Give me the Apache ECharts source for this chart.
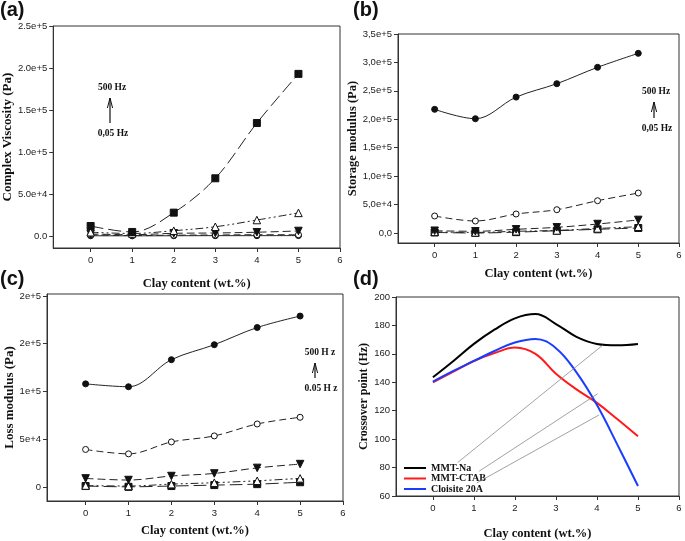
<!DOCTYPE html>
<html><head><meta charset="utf-8">
<script src="https://cdn.jsdelivr.net/npm/echarts@6/dist/echarts.min.js"></script>
<style>html,body{margin:0;padding:0;background:#fff}#c{width:685px;height:541px}</style>
</head><body><div id="c"></div>
<script>
// ---------- data ----------
const clay = [0, 1, 2, 3, 4, 5];
const xTicks = [0, 1, 2, 3, 4, 5, 6];

// (a) Complex viscosity (Pa)
const aSquare = [11900, 4800, 27800, 68700, 134500, 193000];
const aOpenTri = [4500, 3000, 6300, 11000, 19000, 27500];
const aInvTri = [2500, 1500, 3200, 3600, 4500, 6000];
const aOpenCirc = [1500, 500, 1000, 1200, 1500, 1500];
const aFillCirc = [300, 200, 300, 400, 400, 500];
const aTickVals = [0, 50000, 100000, 150000, 200000, 250000];
const aTickLabels = ['0.0', '5.0e+4', '1.0e+5', '1.5e+5', '2.0e+5', '2.5e+5'];

// (b) Storage modulus (Pa)
const bFillCirc = [217500, 201000, 239000, 262600, 291400, 316000];
const bOpenCirc = [29900, 21100, 33400, 41000, 56800, 70300];
const bInvTri = [4000, 3000, 6500, 10000, 15800, 23000];
const bOpenTri = [2000, 1000, 3000, 4500, 8000, 11000];
const bSquare = [1000, 0, 1500, 4000, 6500, 8800];
const bTickVals = [0, 50000, 100000, 150000, 200000, 250000, 300000, 350000];
const bTickLabels = ['0,0', '5,0e+4', '1,0e+5', '1,5e+5', '2,0e+5', '2,5e+5', '3,0e+5', '3,5e+5'];

// (c) Loss modulus (Pa)
const cFillCirc = [108000, 105000, 133300, 149000, 167000, 179000];
const cOpenCirc = [39300, 34700, 47200, 53500, 66000, 73000];
const cInvTri = [9000, 7300, 11500, 14200, 20000, 24000];
const cOpenTri = [1500, 1000, 3000, 4500, 6500, 9000];
const cSquare = [1000, 200, 1000, 2000, 3000, 5000];
const cTickVals = [0, 50000, 100000, 150000, 200000];
const cTickLabels = ['0', '5e+4', '1e+5', '2e+5', '2e+5'];

// (d) Crossover point (Hz)
const dX = [0, 0.5, 1, 1.5, 2, 2.5, 3, 3.5, 4, 4.5, 5];
const dNa = [143.5, 155, 167, 177, 185, 188, 181, 172, 167, 166, 167];
const dCTAB = [140, 147.5, 155, 160.5, 164.5, 160, 146, 135, 125.5, 114, 102];
const dC20A = [140.5, 148, 155, 162, 168, 170.5, 164, 147, 124, 96, 67];
const dTickVals = [60, 80, 100, 120, 140, 160, 180, 200];
const dNames = ['MMT-Na', 'MMT-CTAB', 'Cloisite 20A'];

// ---------- helpers ----------
const pairs = (xs, ys) => xs.map((x, i) => [x, ys[i]]);
const tickFont = { fontFamily: 'Liberation Sans', fontSize: 9.5, color: '#222' };
const titleFont = { fontFamily: 'Liberation Serif', fontWeight: 'bold', fontSize: 12.5, color: '#111' };

function xAx(grid, gap) {
  return {
    type: 'value', gridIndex: grid, min: -0.9, max: 6,
    name: 'Clay content (wt.%)', nameLocation: 'middle', nameGap: gap,
    nameTextStyle: Object.assign({}, titleFont, { fontSize: 12.5 }),
    axisLine: { show: true, onZero: false, lineStyle: { color: '#333', width: 1 } },
    axisTick: { show: true, inside: false, length: 4, customValues: xTicks, lineStyle: { color: '#333' } },
    axisLabel: Object.assign({ customValues: xTicks, margin: 7 }, tickFont),
    splitLine: { show: false }
  };
}
function yAx(grid, min, max, vals, labels, name, gap, fs) {
  return {
    type: 'value', gridIndex: grid, min: min, max: max,
    name: name, nameLocation: 'middle', nameGap: gap,
    nameTextStyle: Object.assign({}, titleFont, { fontSize: fs }),
    axisLine: { show: true, onZero: false, lineStyle: { color: '#333', width: 1 } },
    axisTick: { show: true, inside: false, length: 4, customValues: vals, lineStyle: { color: '#333' } },
    axisLabel: Object.assign({
      customValues: vals, margin: 6,
      formatter: v => { const i = vals.indexOf(v); return i >= 0 ? labels[i] : ''; }
    }, tickFont),
    splitLine: { show: false }
  };
}
const styles = {
  fillCirc: { symbol: 'circle', size: 6, dash: 'solid', fill: '#111' },
  openCirc: { symbol: 'circle', size: 6, dash: [7, 4], fill: '#fff' },
  invTri: { symbol: 'triangle', rotate: 180, size: 7.5, dash: [8, 4], fill: '#111' },
  openTri: { symbol: 'triangle', size: 7.5, dash: [8, 3, 2, 3, 2, 3], fill: '#fff' },
  square: { symbol: 'rect', size: 7, dash: [13, 5], fill: '#111' }
};
function ser(grid, ys, st) {
  const s = styles[st];
  return {
    type: 'line', xAxisIndex: grid, yAxisIndex: grid,
    data: pairs(clay, ys), smooth: 0.35,
    symbol: s.symbol, symbolSize: s.size, symbolRotate: s.rotate || 0,
    showSymbol: true, silent: true,
    itemStyle: { color: s.fill, borderColor: '#111', borderWidth: 1 },
    lineStyle: { color: '#222', width: 1, type: s.dash },
    z: 3
  };
}

const chart = echarts.init(document.getElementById('c'), null, { renderer: 'canvas' });

function arrow(x, yTip, yEnd, top, bottom, tx) {
  const f = { fontFamily: 'Liberation Serif', fontWeight: 'bold', fontSize: 9.5, fill: '#111' };
  return [
    { type: 'line', shape: { x1: x, y1: yTip, x2: x, y2: yEnd }, style: { stroke: '#111', lineWidth: 1.2 } },
    { type: 'polyline', shape: { points: [[x - 2.6, yTip + 10], [x, yTip], [x + 2.6, yTip + 10]] }, style: { stroke: '#111', lineWidth: 1, fill: null } },
    { type: 'text', x: tx, y: yTip - 10, style: Object.assign({ text: top, align: 'center', verticalAlign: 'middle' }, f) },
    { type: 'text', x: tx + 1, y: yEnd + 11, style: Object.assign({ text: bottom, align: 'center', verticalAlign: 'middle' }, f) }
  ];
}
const panelFont = { fontFamily: 'Liberation Sans', fontWeight: 'bold', fontSize: 20, fill: '#111' };

const dColors = ['#000000', '#ff1a1a', '#1a3cff'];
const dSeries = [dNa, dCTAB, dC20A].map((ys, i) => ({
  type: 'line', name: dNames[i], xAxisIndex: 3, yAxisIndex: 3,
  data: pairs(dX, ys), smooth: 0.4, symbol: 'none', silent: true,
  lineStyle: { color: dColors[i], width: 2 },
  itemStyle: { color: dColors[i] },
  z: 3
}));
dSeries[0].markLine = {
  silent: true, symbol: 'none', animation: false,
  label: { show: false },
  lineStyle: { color: '#8a8a8a', width: 0.8, type: 'solid' },
  data: [
    [{ coord: [0.61, 83.7] }, { coord: [4.14, 166.1] }],
    [{ coord: [1.13, 77.5] }, { coord: [4.02, 132] }],
    [{ coord: [1.07, 69.2] }, { coord: [4.05, 117] }]
  ]
};

chart.setOption({
  animation: false,
  backgroundColor: '#fff',
  grid: [
    { left: 52, top: 26, width: 288, height: 222, show: true, borderColor: '#333', borderWidth: 1, backgroundColor: 'transparent' },
    { left: 398, top: 34, width: 281, height: 209, show: true, borderColor: '#333', borderWidth: 1, backgroundColor: 'transparent' },
    { left: 47, top: 294, width: 296, height: 207, show: true, borderColor: '#333', borderWidth: 1, backgroundColor: 'transparent' },
    { left: 396, top: 297, width: 283, height: 206, show: true, borderColor: '#333', borderWidth: 1, backgroundColor: 'transparent' }
  ],
  xAxis: [xAx(0, 29), xAx(1, 24), xAx(2, 23), xAx(3, 31)],
  yAxis: [
    yAx(0, -14286, 250000, aTickVals, aTickLabels, 'Complex Viscosity (Pa)', 33, 13),
    yAx(1, -17588, 350000, bTickVals, bTickLabels, 'Storage modulus (Pa)', 34, 12.5),
    yAx(2, -14660, 202094, cTickVals, cTickLabels, 'Loss modulus (Pa)', 28, 13),
    yAx(3, 60, 200, dTickVals, dTickVals.map(String), 'Crossover point (Hz)', 24, 12)
  ],
  legend: {
    show: true, data: dNames, orient: 'vertical', left: 404, top: 463,
    itemWidth: 22, itemHeight: 10, itemGap: 0.5, padding: 0,
    icon: 'path://M0,4L22,4L22,6L0,6Z',
    textStyle: { fontFamily: 'Liberation Serif', fontWeight: 'bold', fontSize: 10, color: '#111' },
    selectedMode: false
  },
  series: [
    ser(0, aFillCirc, 'fillCirc'), ser(0, aOpenCirc, 'openCirc'), ser(0, aInvTri, 'invTri'),
    ser(0, aOpenTri, 'openTri'), ser(0, aSquare, 'square'),
    ser(1, bSquare, 'square'), ser(1, bOpenTri, 'openTri'), ser(1, bInvTri, 'invTri'),
    ser(1, bOpenCirc, 'openCirc'), ser(1, bFillCirc, 'fillCirc'),
    ser(2, cSquare, 'square'), ser(2, cOpenTri, 'openTri'), ser(2, cInvTri, 'invTri'),
    ser(2, cOpenCirc, 'openCirc'), ser(2, cFillCirc, 'fillCirc')
  ].concat(dSeries),
  graphic: [
    { type: 'text', left: 0, top: 0, style: Object.assign({ text: '(a)' }, panelFont) },
    { type: 'text', left: 353, top: 0, style: Object.assign({ text: '(b)' }, panelFont) },
    { type: 'text', left: 0, top: 269, style: Object.assign({ text: '(c)' }, panelFont) },
    { type: 'text', left: 353, top: 269, style: Object.assign({ text: '(d)' }, panelFont) }
  ].concat(
    arrow(110, 98, 123, '500 Hz', '0,05 Hz', 112),
    arrow(654, 102, 118, '500 Hz', '0,05 Hz', 656),
    arrow(315, 363, 378, '500 H z', '0.05 H z', 320)
  )
});
</script>
</body></html>
